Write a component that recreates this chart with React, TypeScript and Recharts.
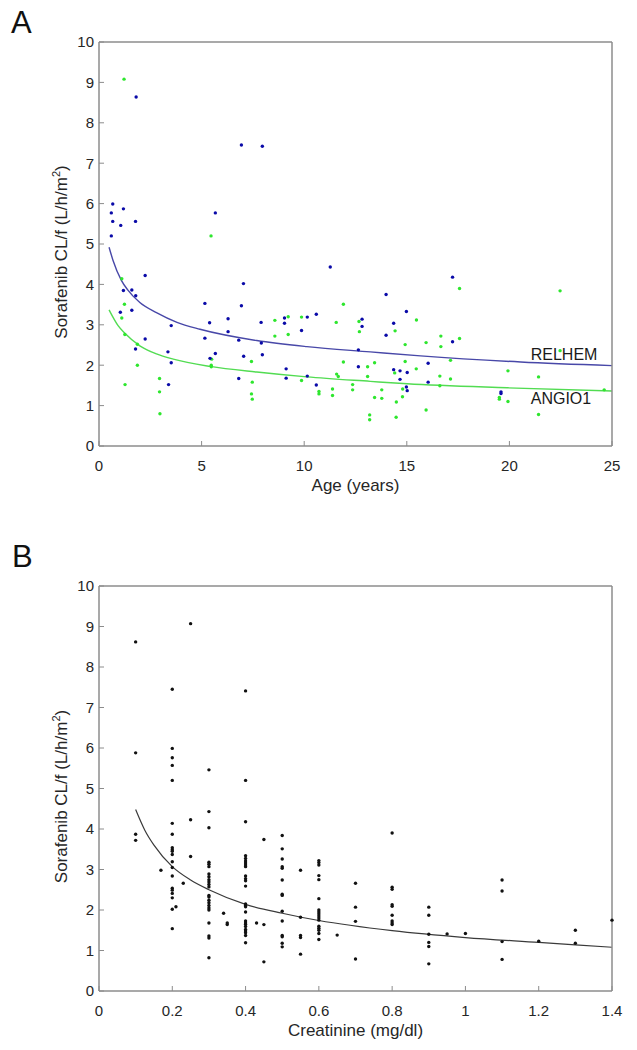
import { ComposedChart, Scatter, Line, XAxis, YAxis, ReferenceDot } from "recharts"

const FONT = '"Liberation Sans", Arial, Helvetica, sans-serif'
const AXIS = "#8c8c8c"
const INK = "#262626"
const BLUE = "#0a0aa8"
const GREEN = "#2ee62e"

// axis ticks
const ageTicks = [0, 5, 10, 15, 20, 25]
const creatTicks = [0, 0.2, 0.4, 0.6, 0.8, 1, 1.2, 1.4]
const clTicks = [0, 1, 2, 3, 4, 5, 6, 7, 8, 9, 10]

// panel A: [age, CL/f] per study
const relhemPts: [number, number][] = [
  [0.6, 5.77], [0.67, 5.99], [0.67, 5.56], [0.6, 5.2], [1.06, 5.46], [1.19, 5.87],
  [1.78, 5.56], [1.81, 8.64], [6.94, 7.45], [7.96, 7.42], [5.67, 5.77], [11.27, 4.43],
  [2.25, 4.22], [1.19, 3.85], [1.6, 3.86], [1.79, 3.72], [1.04, 3.31], [1.6, 3.36],
  [2.25, 2.65], [1.78, 2.4], [7.04, 4.02], [5.16, 3.53], [6.94, 3.47], [5.39, 3.05],
  [6.29, 3.15], [3.52, 2.98], [5.16, 2.67], [6.29, 2.83], [6.81, 2.62], [7.91, 2.55],
  [7.9, 3.06], [3.36, 2.33], [5.67, 2.29], [5.41, 2.17], [3.52, 2.06], [7.05, 2.22],
  [7.96, 2.26], [6.81, 1.67], [3.39, 1.52], [9.04, 3.17], [9.04, 3.04], [10.15, 3.19],
  [9.87, 2.86], [10.59, 3.26], [9.12, 1.91], [9.12, 1.68], [10.15, 1.73], [10.59, 1.51],
  [12.64, 2.38], [12.64, 1.96], [12.82, 3.14], [12.82, 2.96], [17.23, 4.18], [13.99, 3.75],
  [14.98, 3.33], [14.36, 3.04], [13.99, 2.74], [17.23, 2.58], [16.04, 2.05], [14.36, 1.89],
  [14.67, 1.86], [15.02, 1.82], [14.67, 1.65], [16.04, 1.58], [14.98, 1.46], [15.02, 1.37],
  [19.59, 1.34], [19.59, 1.3],
]

const angioPts: [number, number][] = [
  [1.22, 9.08], [5.46, 5.2], [1.11, 4.14], [1.24, 3.51], [1.11, 3.17], [1.26, 2.76],
  [1.87, 2.52], [1.87, 2.0], [1.27, 1.52], [5.49, 2.15], [5.47, 2.0], [5.47, 1.96],
  [7.43, 2.09], [2.95, 1.67], [2.95, 1.34], [2.97, 0.8], [7.47, 1.58], [7.43, 1.29],
  [7.47, 1.16], [8.57, 3.11], [8.57, 2.72], [9.22, 3.2], [9.22, 2.76], [9.87, 3.19],
  [9.87, 1.62], [10.72, 1.35], [10.72, 1.29], [11.56, 3.06], [11.91, 3.51], [11.91, 2.08],
  [11.58, 1.78], [11.66, 1.72], [11.38, 1.41], [11.38, 1.25], [12.36, 1.52], [12.36, 1.39],
  [12.67, 3.08], [12.69, 2.83], [13.09, 1.96], [13.09, 1.72], [13.19, 0.77], [13.19, 0.65],
  [17.57, 3.9], [22.47, 3.84], [15.47, 3.12], [14.43, 2.85], [16.66, 2.72], [15.94, 2.56],
  [14.92, 2.51], [16.66, 2.46], [17.57, 2.66], [22.47, 2.36], [17.13, 2.12], [14.92, 2.09],
  [13.43, 2.06], [15.46, 1.91], [14.41, 1.81], [16.61, 1.73], [19.93, 1.86], [21.42, 1.71],
  [17.13, 1.66], [16.61, 1.49], [14.8, 1.41], [13.78, 1.39], [13.43, 1.2], [13.78, 1.18],
  [14.79, 1.22], [14.49, 1.09], [19.51, 1.2], [19.51, 1.16], [19.93, 1.1], [24.62, 1.39],
  [15.94, 0.89], [14.48, 0.71], [21.42, 0.78],
]

// fitted curves
const relhemFitAge = [0.49, 0.68, 1.09, 1.39, 1.99, 2.8, 3.8, 4.92, 7.69, 10.13, 13.22, 15.67, 20.55, 25]
const relhemFitCL = [4.92, 4.6, 4.1, 3.87, 3.55, 3.3, 3.06, 2.89, 2.61, 2.46, 2.33, 2.23, 2.08, 1.99]
const angioFitAge = [0.49, 0.93, 1.26, 1.99, 2.8, 3.62, 5.41, 7.69, 10.13, 13.22, 15.02, 19.9, 25]
const angioFitCL = [3.37, 2.98, 2.79, 2.48, 2.28, 2.15, 1.97, 1.83, 1.71, 1.6, 1.54, 1.44, 1.36]

// curve labels [age, CL/f] of text baseline start
const relhemLabelAt = [21.04, 2.13]
const angioLabelAt = [21.04, 1.04]

// panel B: creatinine columns -> CL/f values
const creatGroups: [number, number[]][] = [
  [0.1, [8.62, 5.88, 3.87, 3.72]],
  [0.169, [2.98]],
  [0.2, [7.45, 5.99, 5.76, 5.57, 5.2, 4.14, 3.87, 3.54, 3.49, 3.45, 3.37, 3.19, 3.05, 2.84, 2.54, 2.49, 2.41, 2.3, 2.02, 1.54]],
  [0.21, [2.08]],
  [0.23, [2.66]],
  [0.25, [9.07, 4.23, 3.32]],
  [0.3, [5.46, 4.43, 4.03, 3.18, 3.13, 3.07, 2.89, 2.82, 2.75, 2.69, 2.63, 2.57, 2.36, 2.32, 2.24, 2.18, 2.11, 2.05, 2.0, 1.68, 1.36, 1.31, 0.82]],
  [0.34, [1.92]],
  [0.35, [1.68, 1.64]],
  [0.4, [7.41, 5.2, 4.18, 3.34, 3.27, 3.21, 3.16, 3.11, 3.07, 2.84, 2.77, 2.72, 2.59, 2.15, 2.11, 2.08, 1.95, 1.73, 1.68, 1.64, 1.59, 1.52, 1.48, 1.44, 1.37, 1.19]],
  [0.43, [1.68]],
  [0.45, [3.74, 1.64, 0.72]],
  [0.5, [3.84, 3.51, 3.26, 3.07, 3.03, 2.74, 2.39, 2.36, 1.97, 1.73, 1.37, 1.34, 1.18, 1.09]],
  [0.55, [2.98, 1.82, 1.37, 1.32, 0.91]],
  [0.6, [3.22, 3.17, 3.11, 2.85, 2.75, 2.28, 2.0, 1.95, 1.9, 1.85, 1.8, 1.75, 1.6, 1.55, 1.5, 1.42, 1.27]],
  [0.65, [1.38]],
  [0.7, [2.66, 2.07, 1.72, 0.79]],
  [0.8, [3.9, 2.56, 2.51, 2.13, 2.09, 1.87, 1.73, 1.68, 1.64]],
  [0.9, [2.07, 1.87, 1.4, 1.2, 1.1, 0.67]],
  [0.95, [1.41]],
  [1.0, [1.42]],
  [1.1, [2.74, 2.47, 1.22, 0.78]],
  [1.2, [1.23]],
  [1.3, [1.5, 1.18]],
  [1.4, [1.75]],
]

const creatFitX = [0.1, 0.125, 0.15, 0.2, 0.25, 0.3, 0.4, 0.5, 0.6, 0.8, 1.0, 1.2, 1.4]
const creatFitCL = [4.48, 3.97, 3.6, 3.07, 2.74, 2.5, 2.14, 1.92, 1.74, 1.49, 1.32, 1.2, 1.08]

const pairs = (pts: [number, number][]) => pts.map(([x, y]) => ({ x, y }))
const zip = (xs: number[], ys: number[]) => xs.map((x, i) => ({ x, y: ys[i] }))
const creatRows = creatGroups.flatMap(([x, ys]) => ys.map((y) => ({ x, y })))

const dot = (color: string) => (p: any) => <circle cx={p.cx} cy={p.cy} r={1.7} fill={color} />

function XTitle({ viewBox, text }: any) {
  const { x, y, width } = viewBox
  return (
    <text x={x + width / 2} y={y + 45} textAnchor="middle" fontSize={17} fill={INK} fontFamily={FONT}>
      {text}
    </text>
  )
}

function YTitle({ viewBox }: any) {
  const { x, y, height } = viewBox
  const cx = x + 67
  const cy = y + height / 2 + 8
  return (
    <text x={cx} y={cy} transform={`rotate(-90, ${cx}, ${cy})`} textAnchor="middle" fontSize={17} fill={INK} fontFamily={FONT}>
      Sorafenib CL/f (L/h/m
      <tspan dy={-7} fontSize={11}>2</tspan>
      <tspan dy={7}>)</tspan>
    </text>
  )
}

const curveLabel = (text: string) => (p: any) => (
  <text x={p.cx} y={p.cy} fontSize={16} fill="#1a1a1a" fontFamily={FONT}>
    {text}
  </text>
)

function Panel({ height, xDomain, xTicks, xTitle, children }: any) {
  const tick = { fill: INK, fontSize: 15, fontFamily: FONT }
  const line = { stroke: AXIS, strokeWidth: 1.5 }
  return (
    <ComposedChart width={637} height={height} margin={{ top: 41, right: 24, bottom: 0, left: 0 }}>
      <XAxis
        xAxisId="b"
        type="number"
        dataKey="x"
        domain={xDomain}
        ticks={xTicks}
        interval={0}
        height={54}
        tick={tick}
        tickSize={-5}
        tickMargin={19}
        axisLine={line}
        tickLine={{ stroke: AXIS }}
        label={(p: any) => <XTitle viewBox={p.viewBox} text={xTitle} />}
      />
      <XAxis
        xAxisId="t"
        orientation="top"
        type="number"
        domain={xDomain}
        ticks={xTicks}
        interval={0}
        height={1}
        tickSize={-5}
        tickFormatter={() => ""}
        axisLine={line}
        tickLine={{ stroke: AXIS }}
      />
      <YAxis
        yAxisId="l"
        type="number"
        dataKey="y"
        domain={[0, 10]}
        ticks={clTicks}
        interval={0}
        width={99}
        tick={tick}
        tickSize={-5}
        tickMargin={10}
        axisLine={line}
        tickLine={{ stroke: AXIS }}
        label={(p: any) => <YTitle viewBox={p.viewBox} />}
      />
      <YAxis
        yAxisId="r"
        orientation="right"
        type="number"
        domain={[0, 10]}
        ticks={clTicks}
        interval={0}
        width={1}
        tickSize={-5}
        tickFormatter={() => ""}
        axisLine={line}
        tickLine={{ stroke: AXIS }}
      />
      {children}
    </ComposedChart>
  )
}

export default function App() {
  return (
    <div style={{ position: "absolute", left: 0, top: 0, width: 637, height: 1050, background: "#fff" }}>
      <div style={{ position: "absolute", left: 0, top: 0 }}>
        <Panel height={500} xDomain={[0, 25]} xTicks={ageTicks} xTitle="Age (years)">
          <Scatter xAxisId="b" yAxisId="l" data={pairs(angioPts)} shape={dot(GREEN)} isAnimationActive={false} />
          <Scatter xAxisId="b" yAxisId="l" data={pairs(relhemPts)} shape={dot(BLUE)} isAnimationActive={false} />
          <Line xAxisId="b" yAxisId="l" data={zip(relhemFitAge, relhemFitCL)} dataKey="y" type="monotone" dot={false} stroke="#4848a8" strokeWidth={1.4} isAnimationActive={false} />
          <Line xAxisId="b" yAxisId="l" data={zip(angioFitAge, angioFitCL)} dataKey="y" type="monotone" dot={false} stroke="#52dc52" strokeWidth={1.4} isAnimationActive={false} />
          <ReferenceDot xAxisId="b" yAxisId="l" x={relhemLabelAt[0]} y={relhemLabelAt[1]} shape={curveLabel("RELHEM")} />
          <ReferenceDot xAxisId="b" yAxisId="l" x={angioLabelAt[0]} y={angioLabelAt[1]} shape={curveLabel("ANGIO1")} />
        </Panel>
      </div>
      <div style={{ position: "absolute", left: 0, top: 544 }}>
        <Panel height={501} xDomain={[0, 1.4]} xTicks={creatTicks} xTitle="Creatinine (mg/dl)">
          <Scatter xAxisId="b" yAxisId="l" data={creatRows} shape={dot("#111")} isAnimationActive={false} />
          <Line xAxisId="b" yAxisId="l" data={zip(creatFitX, creatFitCL)} dataKey="y" type="monotone" dot={false} stroke="#3a3a3a" strokeWidth={1.2} isAnimationActive={false} />
        </Panel>
      </div>
      <svg width={637} height={1050} style={{ position: "absolute", left: 0, top: 0, pointerEvents: "none" }}>
        <text x={11} y={33} fontSize={31} fill="#111" fontFamily={FONT}>A</text>
        <text x={12} y={567} fontSize={31} fill="#111" fontFamily={FONT}>B</text>
      </svg>
    </div>
  )
}
